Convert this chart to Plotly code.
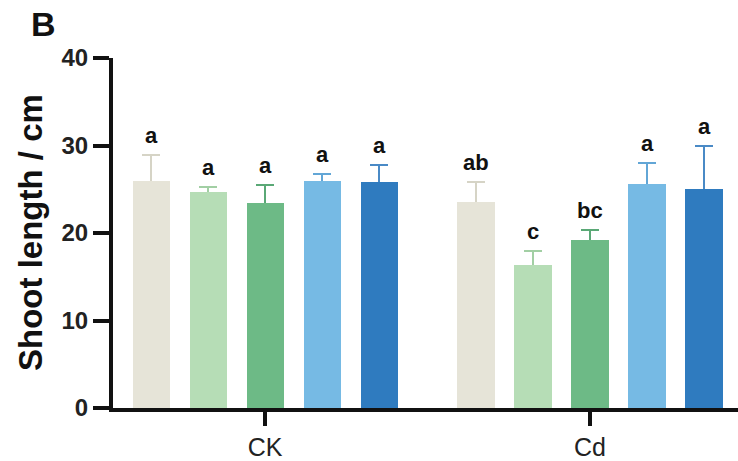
import plotly.graph_objects as go

groups = ["CK", "Cd"]
series = ["T1", "T2", "T3", "T4", "T5"]
means = {
    "T1": [25.9, 23.5],
    "T2": [24.7, 16.3],
    "T3": [23.4, 19.2],
    "T4": [26.0, 25.6],
    "T5": [25.8, 25.0],
}
errs = {
    "T1": [3.0, 2.3],
    "T2": [0.6, 1.7],
    "T3": [2.1, 1.1],
    "T4": [0.8, 2.4],
    "T5": [2.0, 4.9],
}
letters = {
    "T1": ["a", "ab"],
    "T2": ["a", "c"],
    "T3": ["a", "bc"],
    "T4": ["a", "a"],
    "T5": ["a", "a"],
}
y_ticks = [0, 10, 20, 30, 40]

bar_colors = ["#e6e4d8", "#b6ddb6", "#6dba86", "#76bae4", "#2f7bbf"]
err_colors = ["#d6d4c6", "#a2cfa4", "#5aa876", "#62a6d6", "#4a8ac6"]

group_centers = [0.0, 5.7]
offsets = [-2, -1, 0, 1, 2]
FONT = "Liberation Sans, Arial, sans-serif"

fig = go.Figure()
annotations = []
# bars with symmetric error bars (lower half hidden by the overlaid bars)
for i, s in enumerate(series):
    xs = [gc + offsets[i] for gc in group_centers]
    fig.add_trace(go.Bar(
        x=xs, y=means[s], width=0.65, name=s,
        marker=dict(color=bar_colors[i], line=dict(width=0)),
        error_y=dict(type="data", array=errs[s], symmetric=True,
                     color=err_colors[i], thickness=2, width=9),
        showlegend=False, hoverinfo="skip",
    ))
for i, s in enumerate(series):
    xs = [gc + offsets[i] for gc in group_centers]
    fig.add_trace(go.Bar(
        x=xs, y=means[s], width=0.65, name=s,
        marker=dict(color=bar_colors[i], line=dict(width=0)),
        showlegend=False,
    ))
    for x, m, e, lab in zip(xs, means[s], errs[s], letters[s]):
        annotations.append(dict(
            x=x, y=m + e, xref="x", yref="y", text=lab, showarrow=False,
            yanchor="bottom", yshift=5,
            font=dict(family=FONT, size=22, color="#111111", weight="bold"),
        ))

annotations.append(dict(
    x=0, y=0.5, xref="paper", yref="paper", text="Shoot length / cm",
    showarrow=False, textangle=-90, xanchor="center", yanchor="middle",
    xshift=-83, font=dict(family=FONT, size=33, color="#111111", weight="bold"),
))
annotations.append(dict(
    x=0, y=1, xref="paper", yref="paper", text="B",
    showarrow=False, xanchor="left", yanchor="top",
    xshift=-84, yshift=55, font=dict(family=FONT, size=34, color="#111111", weight="bold"),
))

fig.update_layout(
    width=738, height=461,
    margin=dict(l=113, r=0, t=57.5, b=49.5),
    plot_bgcolor="white", paper_bgcolor="white",
    bargap=0, barmode="overlay",
    annotations=annotations,
    xaxis=dict(
        range=[-2.667, 8.296], tickmode="array", tickvals=group_centers,
        ticktext=groups, showline=True, linecolor="#111111", linewidth=4,
        ticks="outside", ticklen=14, tickwidth=4, tickcolor="#111111",
        showgrid=False, zeroline=False,
        tickfont=dict(family=FONT, size=25, color="#222222"),
    ),
    yaxis=dict(
        range=[0, 40], tickvals=y_ticks, showline=True, linecolor="#111111",
        linewidth=4, ticks="outside", ticklen=16, tickwidth=4,
        tickcolor="#111111", showgrid=False, zeroline=False,
        tickfont=dict(family=FONT, size=24, color="#222222", weight="bold"),
    ),
)

fig.write_html("out.html")
